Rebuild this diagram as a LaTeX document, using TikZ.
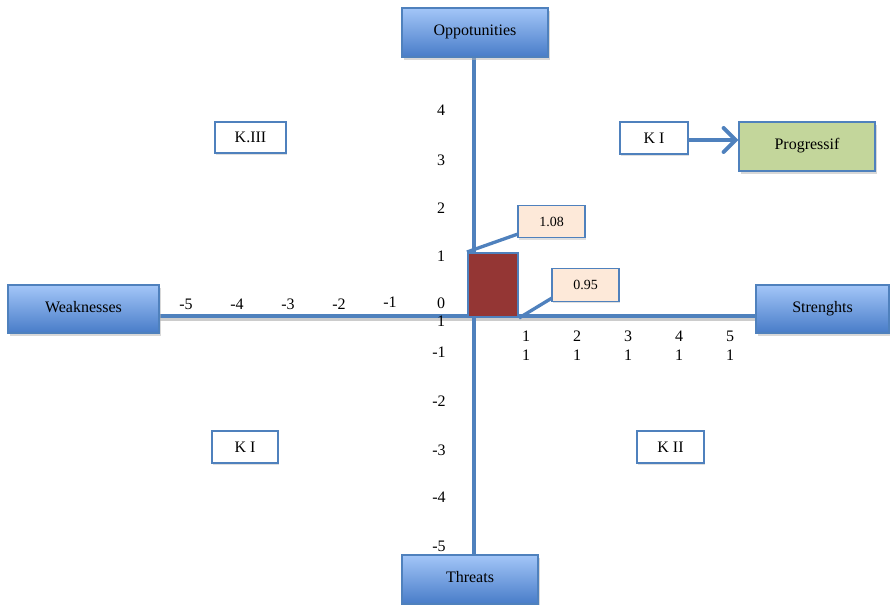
\documentclass[tikz,border=0pt]{standalone}
\usepackage{fontspec}
\setmainfont{Liberation Serif}
\usetikzlibrary{shadows,arrows.meta}
\definecolor{axblue}{RGB}{79,129,189}
\definecolor{topblue}{RGB}{163,198,248}
\definecolor{botblue}{RGB}{72,124,200}
\definecolor{peach}{RGB}{253,233,217}
\definecolor{green1}{RGB}{195,214,155}
\definecolor{darkred}{RGB}{148,54,52}
\newcommand{\up}[1]{\raisebox{3.5pt}{#1}}
\tikzset{
  bigbox/.style={draw=axblue, line width=0.8pt, top color=topblue, bottom color=botblue, inner sep=0pt,
    drop shadow={shadow xshift=1.5pt, shadow yshift=-2pt, fill=black!30, opacity=0.5},
    font=\fontsize{12}{14}\selectfont},
  kbox/.style={draw=axblue, line width=0.8pt, fill=white, inner sep=0pt, minimum width=51pt, minimum height=24pt,
    drop shadow={shadow xshift=1pt, shadow yshift=-1.5pt, fill=black!25, opacity=0.5},
    font=\fontsize{12}{14}\selectfont},
  callout/.style={draw=axblue, line width=0.8pt, fill=peach, inner sep=0pt, minimum width=50.25pt, minimum height=24.5pt,
    drop shadow={shadow xshift=1pt, shadow yshift=-1.5pt, fill=black!25, opacity=0.5},
    font=\fontsize{10.5}{12}\selectfont},
  axis/.style={draw=axblue, line width=3.2pt},
  tick/.style={font=\fontsize{12}{14}\selectfont, inner sep=0pt}
}
\begin{document}
\begin{tikzpicture}[x=0.75pt,y=-0.75pt]
\useasboundingbox (0,0) rectangle (890,605);
% axes
\coordinate (vT) at (474,57);
\coordinate (vB) at (474,555);
\coordinate (hL) at (160,316);
\coordinate (hR) at (756,316);
\draw[line width=2.5pt, black!20] ([yshift=-2.5pt]hL) -- ([yshift=-2.5pt]hR);
\draw[axis] (vT) -- (vB);
\draw[axis] (hL) -- (hR);
% boxes
\node[bigbox, minimum width=109.5pt, minimum height=36.75pt] (opp) at (475,32.5) {\up{Oppotunities}};
\node[bigbox, minimum width=113.25pt, minimum height=36pt] (weak) at (83.5,309) {\up{Weaknesses}};
\node[bigbox, minimum width=99.75pt, minimum height=36pt] (str) at (822.5,309) {\up{Strenghts}};
\node[bigbox, minimum width=102pt, minimum height=36.75pt] (thr) at (470,579.5) {\up{Threats}};
% quadrant labels
\node[kbox, minimum width=53.25pt, minimum height=23.25pt] (k3) at (250.5,137.5) {K.III};
\node[kbox] (k1t) at (654,138) {K I};
\node[kbox, minimum width=49.5pt] (k1b) at (245,447) {K I};
\node[kbox, minimum width=50.25pt] (k2) at (670.5,447) {K II};
\node[draw=axblue, line width=0.8pt, fill=green1, inner sep=0pt, minimum width=102pt, minimum height=36.75pt,
  drop shadow={shadow xshift=1.5pt, shadow yshift=-2pt, fill=black!30, opacity=0.5},
  font=\fontsize{12}{14}\selectfont] (prog) at (807,146.5) {\up{Progressif}};
\draw[axblue, line width=3pt, -{Straight Barb[length=9pt,width=18pt,line cap=round]}] ([yshift=-1.5pt]k1t.east) -- ([yshift=-1.5pt]k1t.east -| prog.west);
% bar
\node[draw=axblue, line width=1.5pt, fill=darkred, inner sep=0pt, minimum width=37.5pt, minimum height=48pt] (bar) at (493,285) {};
% callouts
\node[callout] (c1) at (551.5,221.5) {1.08};
\node[callout] (c2) at (585.5,285) {0.95};
\coordinate (c1p) at (518,234);
\coordinate (c2p) at (552,298);
\draw[axblue, line width=2.5pt] (bar.north west) -- (c1p);
\draw[axblue, line width=2.5pt] (bar.south east) -- (c2p);
% vertical ticks
\node[tick] (v4) at (441,110) {4};
\node[tick] (v3) at (441,160) {3};
\node[tick] (v2) at (441,208) {2};
\node[tick] (v1) at (441,256) {1};
\node[tick] (v0) at (441,303) {0};
\node[tick] (v0b) at (441,321) {1};
\node[tick] (vm1) at (439,352) {-1};
\node[tick] (vm2) at (439,401) {-2};
\node[tick] (vm3) at (439,450) {-3};
\node[tick] (vm4) at (439,497) {-4};
\node[tick] (vm5) at (439,546) {-5};
% horizontal ticks
\node[tick] (hm5) at (186,304) {-5};
\node[tick] (hm4) at (237,304) {-4};
\node[tick] (hm3) at (288,304) {-3};
\node[tick] (hm2) at (339,304) {-2};
\node[tick] (hm1) at (390,302) {-1};
\foreach \i/\x in {1/526,2/577,3/628,4/679,5/730}{
  \node[tick] (ha\i) at (\x,336) {\i};
  \node[tick] (hb\i) at (\x,355) {1};
}
\end{tikzpicture}
\end{document}
